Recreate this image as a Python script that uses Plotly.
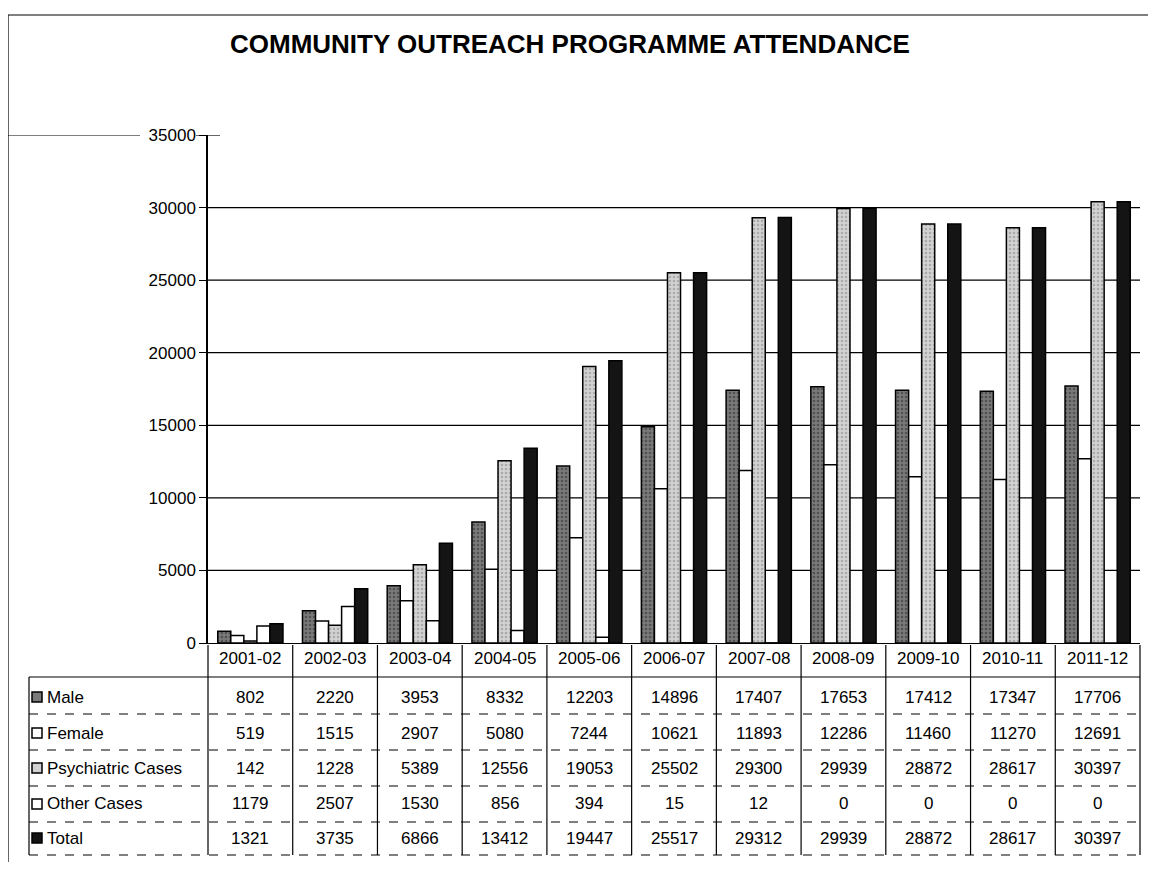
import plotly.graph_objects as go

categories = ["2001-02", "2002-03", "2003-04", "2004-05", "2005-06", "2006-07",
              "2007-08", "2008-09", "2009-10", "2010-11", "2011-12"]
male = [802, 2220, 3953, 8332, 12203, 14896, 17407, 17653, 17412, 17347, 17706]
female = [519, 1515, 2907, 5080, 7244, 10621, 11893, 12286, 11460, 11270, 12691]
psychiatric = [142, 1228, 5389, 12556, 19053, 25502, 29300, 29939, 28872, 28617, 30397]
other = [1179, 2507, 1530, 856, 394, 15, 12, 0, 0, 0, 0]
total = [1321, 3735, 6866, 13412, 19447, 25517, 29312, 29939, 28872, 28617, 30397]
series_names = ["Male", "Female", "Psychiatric Cases", "Other Cases", "Total"]
y_ticks = [0, 5000, 10000, 15000, 20000, 25000, 30000, 35000]

# page offset (body margin) of the figure inside the browser window
OFF = 8
W, H = 1156 - OFF, 873 - OFF
# target screen pixels of plot area
SX0, SX1, SY0, SY1 = 208, 1140, 135, 643
L, R, T = SX0 - OFF, W - (SX1 - OFF), SY0 - OFF
B = H - (SY1 - OFF)
PW, PH = W - L - R, H - T - B


def px_x(px):
    return (px - OFF - L) / PW


def px_y(py):
    return (H - B - (py - OFF)) / PH


series = [male, female, psychiatric, other, total]
styles = [
    dict(color="#7a7a7a", pattern=dict(shape=".", fgcolor="#2a2a2a", size=4, solidity=0.35)),
    dict(color="#ffffff"),
    dict(color="#d2d2d2", pattern=dict(shape=".", fgcolor="#808080", size=4, solidity=0.3)),
    dict(color="#ffffff"),
    dict(color="#141414"),
]

fig = go.Figure()
for name, vals, st in zip(series_names, series, styles):
    marker = dict(color=st["color"], line=dict(color="#000000", width=1.5))
    if "pattern" in st:
        marker["pattern"] = st["pattern"]
    fig.add_trace(go.Bar(x=categories, y=vals, name=name, marker=marker,
                         showlegend=False))

font = dict(family="Liberation Sans, Arial, sans-serif", color="#000000")
annotations = []
shapes = []

# Title
annotations.append(dict(text="<b>COMMUNITY OUTREACH PROGRAMME ATTENDANCE</b>",
                        xref="paper", yref="paper", x=px_x(570), y=px_y(44),
                        xanchor="center", yanchor="middle", showarrow=False,
                        font=dict(size=26, **font)))

# Table rows
header_c = 658
row_c = [697, 733, 768, 804, 838]
row_lines = [677, 714, 750, 786, 822, 855]
n = len(categories)
TFS = 17


def col_center(i):
    return px_x(SX0 + (SX1 - SX0) * (i + 0.5) / n)


for i, cat in enumerate(categories):
    annotations.append(dict(text=cat, xref="paper", yref="paper", x=col_center(i),
                            y=px_y(header_c), xanchor="center", yanchor="middle",
                            showarrow=False, font=dict(size=TFS, **font)))
key_colors = ["#7a7a7a", "#ffffff", "#d2d2d2", "#ffffff", "#141414"]
for r, (name, vals) in enumerate(zip(series_names, series)):
    cy = row_c[r]
    annotations.append(dict(text=name, xref="paper", yref="paper", x=px_x(45), y=px_y(cy),
                            xanchor="left", yanchor="middle", showarrow=False,
                            font=dict(size=TFS, **font)))
    shapes.append(dict(type="rect", xref="paper", yref="paper",
                       x0=px_x(32), x1=px_x(42), y0=px_y(cy + 5), y1=px_y(cy - 5),
                       fillcolor=key_colors[r], line=dict(color="#000", width=1.5)))
    for i, v in enumerate(vals):
        annotations.append(dict(text=str(v), xref="paper", yref="paper", x=col_center(i),
                                y=px_y(cy), xanchor="center", yanchor="middle",
                                showarrow=False, font=dict(size=TFS, **font)))

# table grid lines
line_style = dict(color="#000000", width=1.2)
for i in range(n + 1):
    shapes.append(dict(type="line", xref="paper", yref="paper", x0=i / n, x1=i / n,
                       y0=px_y(645), y1=px_y(row_lines[-1]), line=line_style))
shapes.append(dict(type="line", xref="paper", yref="paper", x0=px_x(29), x1=px_x(29),
                   y0=px_y(row_lines[0]), y1=px_y(row_lines[-1]), line=line_style))
for j, ly in enumerate(row_lines):
    shapes.append(dict(type="line", xref="paper", yref="paper", x0=px_x(29), x1=1.0,
                       y0=px_y(ly), y1=px_y(ly),
                       line=dict(color="#000000", width=1.2,
                                 dash="solid" if j in (0,) else "dash")))

# horizontal gridlines behind the bars
for v in y_ticks[1:-1]:
    shapes.append(dict(type="line", xref="paper", yref="y", x0=0, x1=1, y0=v, y1=v,
                       layer="below", line=dict(color="#000000", width=1.2)))

# outer frame (left and top) and stray line at the top tick
shapes.append(dict(type="line", xref="paper", yref="paper", x0=px_x(8), x1=px_x(8),
                   y0=px_y(15), y1=px_y(862), line=line_style))
shapes.append(dict(type="line", xref="paper", yref="paper", x0=px_x(8), x1=px_x(1156),
                   y0=px_y(15), y1=px_y(15), line=line_style))
shapes.append(dict(type="line", xref="paper", yref="y", x0=px_x(0), x1=px_x(140),
                   y0=y_ticks[-1], y1=y_ticks[-1], line=line_style))
shapes.append(dict(type="line", xref="paper", yref="y", x0=px_x(196), x1=px_x(220),
                   y0=y_ticks[-1], y1=y_ticks[-1], line=line_style))

fig.update_layout(
    width=W, height=H,
    margin=dict(l=L, r=R, t=T, b=B, autoexpand=False),
    paper_bgcolor="#ffffff", plot_bgcolor="#ffffff",
    barmode="group", bargap=0.23, bargroupgap=0.0,
    annotations=annotations, shapes=shapes,
    font=font,
)
fig.update_xaxes(type="category", range=[-0.5, n - 0.5], showticklabels=False,
                 showline=True, linecolor="#000", linewidth=1.2, showgrid=False, ticks="")
fig.update_yaxes(range=[0, 35000], tickvals=y_ticks, tickformat="d", showgrid=False,
                 showline=True, linecolor="#000", linewidth=1.5, ticks="outside",
                 ticklen=7, tickcolor="#000", tickfont=dict(size=TFS, **font),
                 zeroline=False)

fig.write_html("out.html")
